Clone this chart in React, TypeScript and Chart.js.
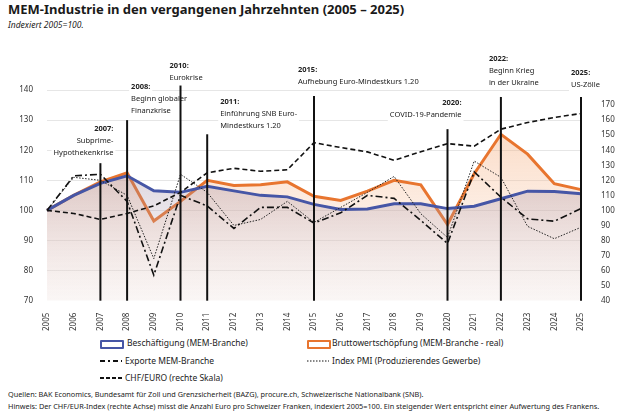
import React, { useEffect, useRef } from "react";
import { Chart, registerables } from "chart.js";
Chart.register(...registerables);

const years = ["2005","2006","2007","2008","2009","2010","2011","2012","2013","2014","2015","2016","2017","2018","2019","2020","2021","2022","2023","2024","2025"];
const employment = [100,105,109,111.5,106.5,106,108,106.5,105,104.5,102,100.3,100.5,102.2,102.2,100.6,101.4,103.9,106.4,106.3,105.5];
const valueAdded = [100,105,109.5,112.5,96.5,103,110,108.3,108.5,109.5,104.7,103.3,106.4,110,108.5,95.3,112.2,125.3,118.7,108.9,106.9];
const exportsMEM = [100,111.5,112,103,78.5,105,101.5,94,101,101,95.8,99.2,105,104,96.7,89,112.8,104.4,97.2,96.4,100.6];
const pmi = [100,111,110,105,84,112,106,95,97,103,96,101,106,111.3,98.9,91,116.4,111,94.7,90.6,94.4];
const chfEur = [100,98,94,98,103,112,125,128,126,127,145,141.8,138.9,133.3,139,144.4,142.7,154,158.4,161.8,164.4];

const eventYears = ["2007","2008","2010","2011","2015","2020","2022","2025"];
const eventTops = [115.7,130,141.5,125.3,138,127,137.7,137.7];
const eventLabels = [
  ["2007:","Subprime-","Hypothekenkrise"],
  ["2008:","Beginn globaler","Finanzkrise"],
  ["2010:","Eurokrise"],
  ["2011:","Einführung SNB Euro-","Mindestkurs 1.20"],
  ["2015:","Aufhebung Euro-Mindestkurs 1.20"],
  ["2020:","COVID-19-Pandemie"],
  ["2022:","Beginn Krieg","in der Ukraine"],
  ["2025:","US-Zölle"],
];
const labelLayout: [number, number, CanvasTextAlign][] = [
  [13, 85, "right"], [4, 43, "left"], [-11, 22, "left"], [13, 58, "left"],
  [-16, 26, "left"], [14, 59, "right"], [-12, 15, "left"], [-10, 29, "left"],
];

const FONT = "'Noto Sans', sans-serif";

const eventsPlugin = {
  id: "events",
  afterDatasetsDraw(chart: any) {
    const { ctx, scales } = chart;
    const x = scales.x, y = scales.y;
    ctx.save();
    eventYears.forEach((yr, i) => {
      const px = x.getPixelForValue(years.indexOf(yr));
      const [dx, ty, al] = labelLayout[i];
      ctx.textAlign = al;
      ctx.textBaseline = "top";
      eventLabels[i].forEach((t, j) => {
        ctx.font = (j === 0 ? "bold " : "") + "7.5px " + FONT;
        const w = ctx.measureText(t).width;
        const lx = px + dx;
        ctx.fillStyle = "#fff";
        ctx.fillRect(al === "right" ? lx - w - 2 : lx - 2, ty + j * 12 - 1, w + 4, 12);
        ctx.fillStyle = "#222";
        ctx.fillText(t, lx, ty + j * 12);
      });
    });
    eventYears.forEach((yr, i) => {
      const px = x.getPixelForValue(years.indexOf(yr));
      ctx.strokeStyle = "#111";
      ctx.lineWidth = 2;
      ctx.beginPath();
      ctx.moveTo(px, y.getPixelForValue(70));
      ctx.lineTo(px, y.getPixelForValue(eventTops[i]));
      ctx.stroke();
    });
    ctx.restore();
  },
};

function grad(chart: any, top: string, bottom: string) {
  const { ctx, chartArea } = chart;
  if (!chartArea) return top;
  const g = ctx.createLinearGradient(0, chartArea.top + 60, 0, chartArea.bottom);
  g.addColorStop(0, top);
  g.addColorStop(1, bottom);
  return g;
}

export default function App() {
  const ref = useRef<HTMLCanvasElement>(null);
  useEffect(() => {
    document.body.style.margin = "0";
    const chart = new Chart(ref.current!, {
      type: "line",
      data: {
        labels: years,
        datasets: [
          { label: "Beschäftigung", data: employment, borderColor: "#4656a6", borderWidth: 3, pointRadius: 0, tension: 0, order: 1, fill: "origin",
            backgroundColor: (c: any) => grad(c.chart, "rgba(120,90,120,0.35)", "rgba(230,225,235,0.15)") },
          { label: "Bruttowertschöpfung", data: valueAdded, borderColor: "#e8752f", borderWidth: 3, pointRadius: 0, tension: 0, order: 2, fill: "origin",
            backgroundColor: (c: any) => grad(c.chart, "rgba(245,170,120,0.4)", "rgba(250,230,215,0.2)") },
          { label: "Exporte", data: exportsMEM, borderColor: "#111", borderWidth: 1.6, borderDash: [7, 3, 2, 3], pointRadius: 0, fill: false, order: 0 },
          { label: "PMI", data: pmi, borderColor: "#222", borderWidth: 1, borderDash: [1.5, 1.5], pointRadius: 0, fill: false, order: 0 },
          { label: "CHF/EUR", data: chfEur, borderColor: "#111", borderWidth: 1.6, borderDash: [5, 3], pointRadius: 0, fill: false, order: 0, yAxisID: "y2" },
        ],
      },
      options: {
        animation: false,
        responsive: false,
        layout: { padding: { top: 35, left: 10, right: 0, bottom: 0 } },
        plugins: { legend: { display: false }, tooltip: { enabled: false } },
        scales: {
          x: {
            offset: false,
            grid: { display: false },
            border: { display: false },
            ticks: { maxRotation: 90, minRotation: 90, color: "#333", font: { size: 8, family: FONT }, padding: 4 },
          },
          y: {
            min: 70, max: 145,
            afterFit: (s: any) => { s.width = 37; },
            afterBuildTicks: (s: any) => { s.ticks = s.ticks.filter((t: any) => t.value <= 140); },
            ticks: { stepSize: 10, color: "#333", font: { size: 8, family: FONT }, padding: 14 },
            grid: { color: (c: any) => (c.tick && c.tick.value === 70 ? "rgba(0,0,0,0)" : "#e6e6e6"), drawTicks: false },
            border: { display: false },
          },
          y2: {
            position: "right",
            min: 40, max: 190,
            afterFit: (s: any) => { s.width = 49; },
            afterBuildTicks: (s: any) => { s.ticks = s.ticks.filter((t: any) => t.value <= 170); },
            ticks: { stepSize: 10, color: "#333", font: { size: 8, family: FONT }, padding: 12 },
            grid: { display: false },
            border: { display: false },
          },
        },
      },
      plugins: [eventsPlugin],
    } as any);
    return () => chart.destroy();
  }, []);

  const txt: React.CSSProperties = { position: "absolute", fontFamily: FONT, color: "#222", whiteSpace: "nowrap" };
  const legendText: React.CSSProperties = { ...txt, fontSize: 8.5, lineHeight: "12px" };
  const box = (c: string): React.CSSProperties => ({ position: "absolute", width: 20, height: 5, border: `2px solid ${c}`, borderRadius: 1 });
  const lineIcon = (dash: string, w: number, left: number, top: number) => (
    <svg style={{ position: "absolute", left, top }} width={22} height={6}>
      <line x1={0} y1={3} x2={22} y2={3} stroke="#111" strokeWidth={w} strokeDasharray={dash} />
    </svg>
  );
  return (
    <div style={{ position: "fixed", left: 0, top: 0, width: 630, height: 412, background: "#fff", overflow: "hidden" }}>
      <div style={{ ...txt, left: 8, top: 0, fontSize: 13, fontWeight: "bold", color: "#1a1a1a" }}>MEM-Industrie in den vergangenen Jahrzehnten (2005 – 2025)</div>
      <div style={{ ...txt, left: 8, top: 19, fontSize: 8.5, fontStyle: "italic" }}>Indexiert 2005=100.</div>
      <canvas ref={ref} width={630} height={295} style={{ position: "absolute", left: 0, top: 40 }} />
      <div style={{ ...box("#4656a6"), left: 100, top: 340 }} />
      <div style={{ ...legendText, left: 127, top: 337 }}>Beschäftigung (MEM-Branche)</div>
      <div style={{ ...box("#e8752f"), left: 307, top: 340 }} />
      <div style={{ ...legendText, left: 332, top: 337 }}>Bruttowertschöpfung (MEM-Branche - real)</div>
      {lineIcon("5 3 2 3", 2, 100, 358)}
      <div style={{ ...legendText, left: 125, top: 355 }}>Exporte MEM-Branche</div>
      {lineIcon("1.5 1.5", 1, 307, 358)}
      <div style={{ ...legendText, left: 332, top: 355 }}>Index PMI (Produzierendes Gewerbe)</div>
      {lineIcon("4 2", 2, 100, 375)}
      <div style={{ ...legendText, left: 125, top: 372 }}>CHF/EURO (rechte Skala)</div>
      <div style={{ ...txt, left: 8, top: 389, fontSize: 7.3 }}>Quellen: BAK Economics, Bundesamt für Zoll und Grenzsicherheit (BAZG), procure.ch, Schweizerische Nationalbank (SNB).</div>
      <div style={{ ...txt, left: 8, top: 401, fontSize: 7.3 }}>Hinweis: Der CHF/EUR-Index (rechte Achse) misst die Anzahl Euro pro Schweizer Franken, indexiert 2005=100. Ein steigender Wert entspricht einer Aufwertung des Frankens.</div>
    </div>
  );
}
